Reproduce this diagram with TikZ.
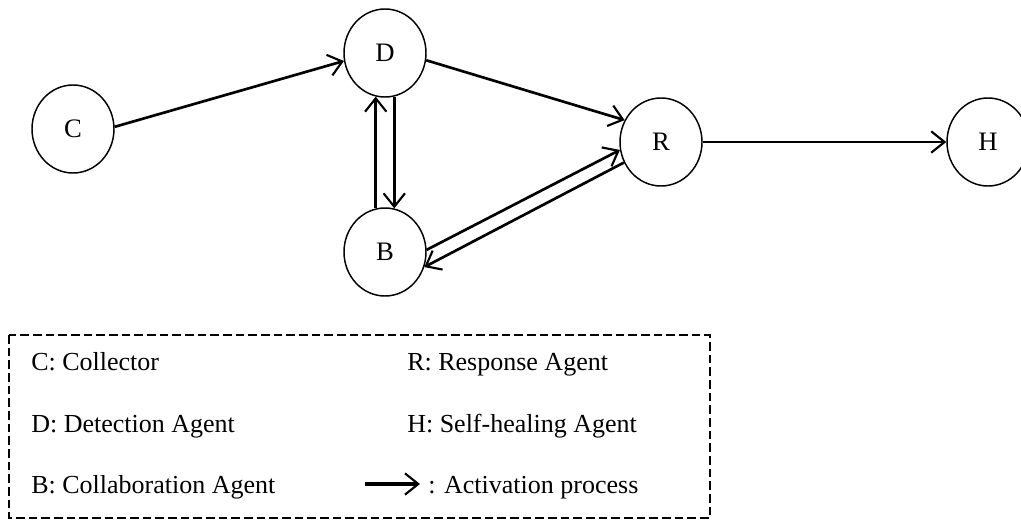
\documentclass[tikz,border=0pt]{standalone}
\usepackage{fontspec}
\setmainfont{Liberation Serif}
\usetikzlibrary{arrows.meta,shapes.geometric}
\begin{document}
\begin{tikzpicture}[x=0.75pt,y=-0.75pt,
  agent/.style={ellipse,draw,line width=1.1pt,minimum width=61.5pt,minimum height=66pt,inner sep=0pt,
    font=\fontsize{20}{24}\selectfont},
  act/.style={line width=2pt,-{Straight Barb[length=10pt,width=16pt,line width=1.6pt]}},
  legtext/.style={anchor=base west,inner sep=0pt,font=\fontsize{19.5}{23}\selectfont}]
\useasboundingbox (0,0) rectangle (1021,521);
\node[agent] (C) at (73,129) {C};
\node[agent] (D) at (385,53) {D};
\node[agent] (B) at (385,252) {B};
\node[agent] (R) at (661,142) {R};
\node[agent] (H) at (988,142) {H};
\draw[act] (C.3) -- (D.191);
\draw[act] (D.-10) -- (R.149);
\draw[act] (D.-78) -- (B.78);
\draw[act] (B.102) -- (D.-102);
\draw[act] (B.3) -- (R.191);
\draw[act] (R.209) -- (B.-21);
\draw[act] (R.east) -- (H.west);
% legend
\draw[line width=1.2pt,dash pattern=on 6.5pt off 3pt] (9,335) rectangle (710,518);
\node[legtext] (lc) at (31,370) {C: Collector};
\node[legtext] (ld) at (31,432) {D: Detection Agent};
\node[legtext] (lb) at (31,493) {B: Collaboration Agent};
\node[legtext] (lr) at (407,370) {R: Response Agent};
\node[legtext] (lh) at (407,432) {H: Self-healing Agent};
\node[legtext] (la) at (428,493) {: Activation process};
\coordinate (a1) at (365,484);
\coordinate (a2) at (420,484);
\draw[act,line width=2.4pt] (a1) -- (a2);
\end{tikzpicture}
\end{document}
